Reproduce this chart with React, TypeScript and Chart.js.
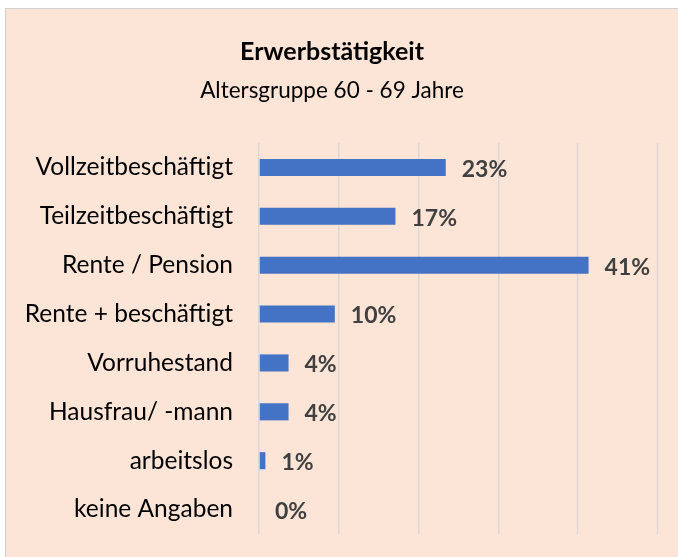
import React, { useEffect, useRef } from "react";
import { Chart, registerables } from "chart.js";

Chart.register(...registerables);

const categories = [
  "Vollzeitbeschäftigt",
  "Teilzeitbeschäftigt",
  "Rente / Pension",
  "Rente + beschäftigt",
  "Vorruhestand",
  "Hausfrau/ -mann",
  "arbeitslos",
  "keine Angaben",
];
const values = [23.4, 17.1, 41.3, 9.5, 3.7, 3.7, 0.8, 0];
const valueLabels = ["23%", "17%", "41%", "10%", "4%", "4%", "1%", "0%"];
const titleText = "Erwerbstätigkeit";
const subtitleText = "Altersgruppe 60 - 69 Jahre";

const FONT = "Lato, 'Open Sans', sans-serif";

const labelPlugin = {
  id: "valueLabels",
  afterDatasetsDraw(chart: any) {
    const ctx = chart.ctx;
    const meta = chart.getDatasetMeta(0);
    ctx.save();
    ctx.font = `bold 23px ${FONT}`;
    ctx.fillStyle = "#404040";
    ctx.textAlign = "left";
    ctx.textBaseline = "middle";
    meta.data.forEach((bar: any, i: number) => {
      ctx.fillText(valueLabels[i], bar.x + 16, bar.y + 2);
    });
    ctx.restore();
  },
};

export default function App() {
  const ref = useRef<HTMLCanvasElement | null>(null);
  useEffect(() => {
    if (!ref.current) return;
    const chart = new Chart(ref.current, {
      type: "bar",
      data: {
        labels: categories,
        datasets: [
          {
            data: values,
            backgroundColor: "#4472C4",
            borderWidth: 0,
            barPercentage: 0.35,
            categoryPercentage: 1,
          },
        ],
      },
      options: {
        indexAxis: "y",
        animation: false,
        responsive: false,
        maintainAspectRatio: false,
        layout: { padding: { left: 0, right: 20, top: 0, bottom: 23 } },
        plugins: {
          legend: { display: false },
          tooltip: { enabled: false },
          title: {
            display: true,
            text: titleText,
            color: "#000",
            font: { family: FONT, size: 25, weight: "bold" },
            padding: { top: 28, bottom: 10 },
          },
          subtitle: {
            display: true,
            text: subtitleText,
            color: "#000",
            font: { family: FONT, size: 22.5, weight: "normal" },
            padding: { top: 0, bottom: 39 },
          },
        },
        scales: {
          x: {
            min: 0,
            max: 50,
            ticks: { display: false, stepSize: 10 },
            grid: { color: "#d9d9d9", lineWidth: 1.5, drawTicks: false },
            border: { display: false },
          },
          y: {
            ticks: {
              color: "#000",
              font: { family: FONT, size: 24.5 },
              padding: 26,
            },
            grid: { display: false, drawTicks: false },
            border: { display: false },
            afterFit(scale: any) {
              scale.width = 253;
              scale.paddingTop = 0;
              scale.paddingBottom = 0;
            },
          },
        },
      },
      plugins: [labelPlugin],
    });
    return () => chart.destroy();
  }, []);

  return (
    <div
      style={{
        position: "fixed",
        left: 5,
        top: 8,
        width: 700,
        height: 600,
        background: "#FCE4D6",
        borderLeft: "1px solid #d0d0d0",
        borderTop: "1px solid #d0d0d0",
        boxSizing: "border-box",
      }}
    >
      <canvas ref={ref} width={672} height={548} style={{ display: "block" }} />
    </div>
  );
}
